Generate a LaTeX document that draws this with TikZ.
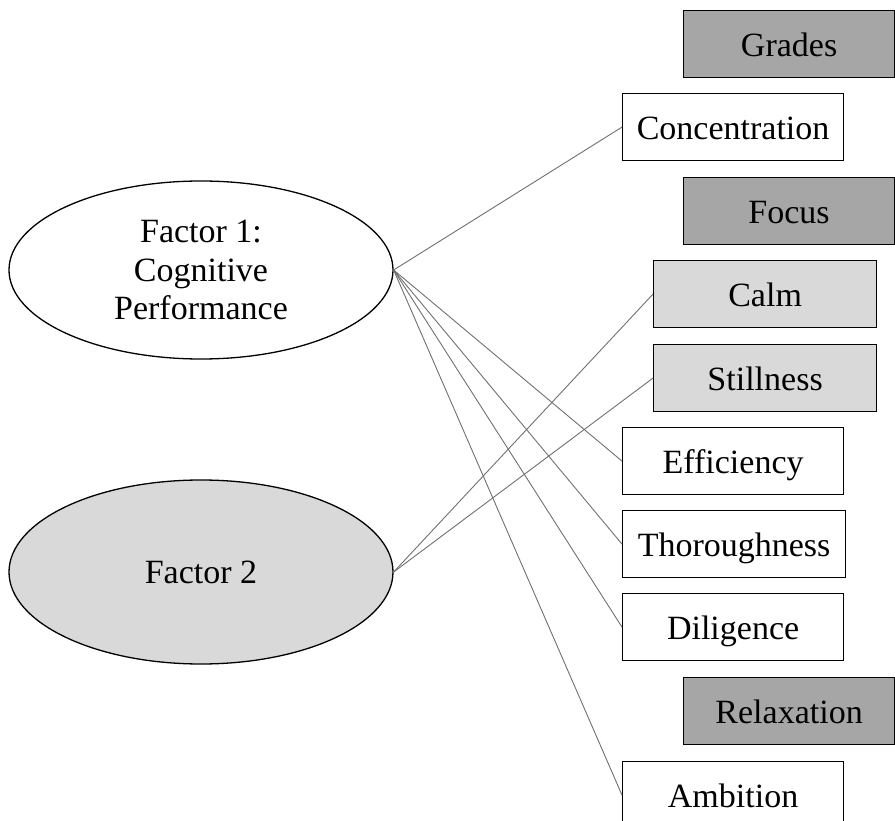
\documentclass[tikz,border=0pt]{standalone}
\usepackage{fontspec}
\setmainfont{Liberation Serif}
\usetikzlibrary{positioning,shapes.geometric}
\definecolor{LoadDark}{HTML}{A6A6A6}
\definecolor{LoadLight}{HTML}{D9D9D9}
\definecolor{LinkGray}{HTML}{707070}

\begin{document}
\begin{tikzpicture}[
  x=1pt, y=-1pt,
  factor/.style={draw=black, line width=1.3pt, shape=ellipse, minimum width=384pt, inner sep=0pt, align=center, font=\fontsize{34}{38.5}\selectfont},
  box/.style={draw=black, line width=1.2pt, fill=white, anchor=north west, minimum width=221pt, minimum height=67pt, inner sep=0pt, text height=30pt, text depth=5pt, font=\fontsize{34}{40}\selectfont},
  darkbox/.style={box, fill=LoadDark, minimum width=211pt},
  lightbox/.style={box, fill=LoadLight, minimum width=223pt},
  link/.style={draw=LinkGray, line width=0.9pt}
]
\clip (0,0) rectangle (895,821);
% factors
\node[factor, minimum height=178pt] (f1) at (201,270) {Factor 1:\\Cognitive\\Performance};
\node[factor, fill=LoadLight, minimum height=184pt] (f2) at (201,572) {Factor 2};
% items
\node[darkbox] (grades) at (683,10) {Grades};
\node[box] (conc) at (622,93) {Concentration};
\node[darkbox] (focus) at (683,177) {Focus};
\node[lightbox] (calm) at (653,260) {Calm};
\node[lightbox] (still) at (653,344) {Stillness};
\node[box] (eff) at (622,427) {Efficiency};
\node[box, minimum width=223pt] (thor) at (622,510) {Thoroughness};
\node[box] (dil) at (622,593) {Diligence};
\node[darkbox] (relax) at (683,677) {Relaxation};
\node[box] (amb) at (622,761) {Ambition};
% loadings
\draw[link] (f1.east) -- (conc.west);
\draw[link] (f1.east) -- (eff.west);
\draw[link] (f1.east) -- (thor.west);
\draw[link] (f1.east) -- (dil.west);
\draw[link] (f1.east) -- (amb.west);
\draw[link] (f2.east) -- (calm.west);
\draw[link] (f2.east) -- (still.west);
\end{tikzpicture}
\end{document}
